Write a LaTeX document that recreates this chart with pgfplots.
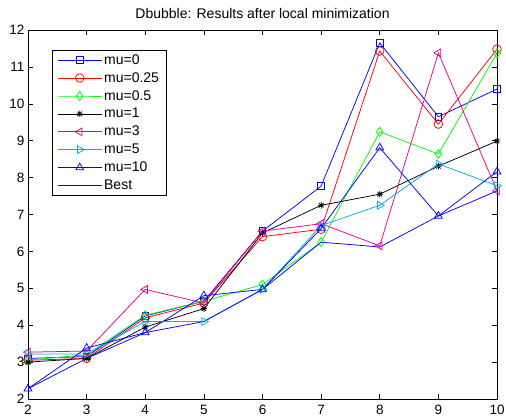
\documentclass[border=0pt]{standalone}
\usepackage{fontspec}
\setmainfont{Liberation Sans}
\usepackage{pgfplots}
\pgfplotsset{compat=1.18}
\pgfdeclareplotmark{mstar}{%
  \pgfpathmoveto{\pgfqpoint{-\pgfplotmarksize}{0pt}}\pgfpathlineto{\pgfqpoint{\pgfplotmarksize}{0pt}}%
  \pgfpathmoveto{\pgfqpoint{0pt}{-\pgfplotmarksize}}\pgfpathlineto{\pgfqpoint{0pt}{\pgfplotmarksize}}%
  \pgfpathmoveto{\pgfqpoint{-0.707\pgfplotmarksize}{-0.707\pgfplotmarksize}}\pgfpathlineto{\pgfqpoint{0.707\pgfplotmarksize}{0.707\pgfplotmarksize}}%
  \pgfpathmoveto{\pgfqpoint{-0.707\pgfplotmarksize}{0.707\pgfplotmarksize}}\pgfpathlineto{\pgfqpoint{0.707\pgfplotmarksize}{-0.707\pgfplotmarksize}}%
  \pgfusepathqstroke}
\begin{document}
\begin{tikzpicture}
\begin{axis}[
  name=ax,
  scale only axis,
  width=469pt, height=369pt,
  xmin=2, xmax=10, ymin=2, ymax=12,
  xtick={2,...,10}, ytick={2,...,12},
  tick align=inside,
  major tick length=5pt,
  axis line style={line width=0.8pt},
  every tick/.style={black, line width=0.6pt},
  tick label style={font=\fontsize{13.5}{15}\selectfont},
  /pgf/number format/assume math mode=true,
  title={Dbubble: Results after local minimization},
  title style={font=\fontsize{14}{16}\selectfont, yshift=2pt},
  xticklabel style={yshift=-3pt},
  legend cell align=left,
  legend style={at={(0.0512,0.9458)}, anchor=north west, font=\fontsize{14}{16}\selectfont,
    draw=black, line width=0.8pt, row sep=2.7pt, inner xsep=5pt, inner ysep=2pt},
  legend image code/.code={\draw[mark repeat=2, mark phase=2, line width=0.75pt] plot coordinates {(0pt,0pt) (22pt,0pt) (44pt,0pt)};},
  every axis plot/.append style={line width=0.75pt, mark size=3.3pt, mark options={solid}},
]
\addplot[blue, mark=square] coordinates {(2,3.1) (3,3.15) (4,4.25) (5,4.65) (6,6.55) (7,7.77) (8,11.65) (9,9.65) (10,10.4)};
\addlegendentry{mu=0}
\addplot[red, mark=o, mark size=4.3pt] coordinates {(2,3.05) (3,3.1) (4,4.2) (5,4.6) (6,6.4) (7,6.6) (8,11.43) (9,9.45) (10,11.48)};
\addlegendentry{mu=0.25}
\addplot[green, mark=diamond, mark size=4.5pt] coordinates {(2,3.05) (3,3.2) (4,4.27) (5,4.65) (6,5.1) (7,6.25) (8,9.24) (9,8.64) (10,11.37)};
\addlegendentry{mu=0.5}
\addplot[black, mark=mstar] coordinates {(2,3.0) (3,3.1) (4,3.95) (5,4.45) (6,6.5) (7,7.25) (8,7.55) (9,8.31) (10,8.99)};
\addlegendentry{mu=1}
\addplot[magenta, mark=triangle, mark options={rotate=90}, mark size=4.5pt] coordinates {(2,3.27) (3,3.3) (4,4.97) (5,4.6) (6,6.55) (7,6.75) (8,6.15) (9,11.38) (10,7.64)};
\addlegendentry{mu=3}
\addplot[cyan, mark=triangle, mark options={rotate=-90}, mark size=4.5pt] coordinates {(2,3.22) (3,3.22) (4,4.1) (5,4.1) (6,4.97) (7,6.7) (8,7.25) (9,8.37) (10,7.78)};
\addlegendentry{mu=5}
\addplot[blue, mark=triangle, mark size=4.5pt] coordinates {(2,2.28) (3,3.38) (4,3.8) (5,4.8) (6,4.97) (7,6.62) (8,8.81) (9,6.96) (10,8.16)};
\addlegendentry{mu=10}
\addplot[blue, no marks] coordinates {(2,2.28) (3,3.1) (4,3.8) (5,4.1) (6,4.97) (7,6.25) (8,6.12) (9,6.96) (10,7.64)};
\addlegendentry{Best}
\end{axis}
\pgfresetboundingbox
\path ([shift={(-28pt,-19pt)}]ax.south west) rectangle ([shift={(9pt,30pt)}]ax.north east);
\end{tikzpicture}
\end{document}
